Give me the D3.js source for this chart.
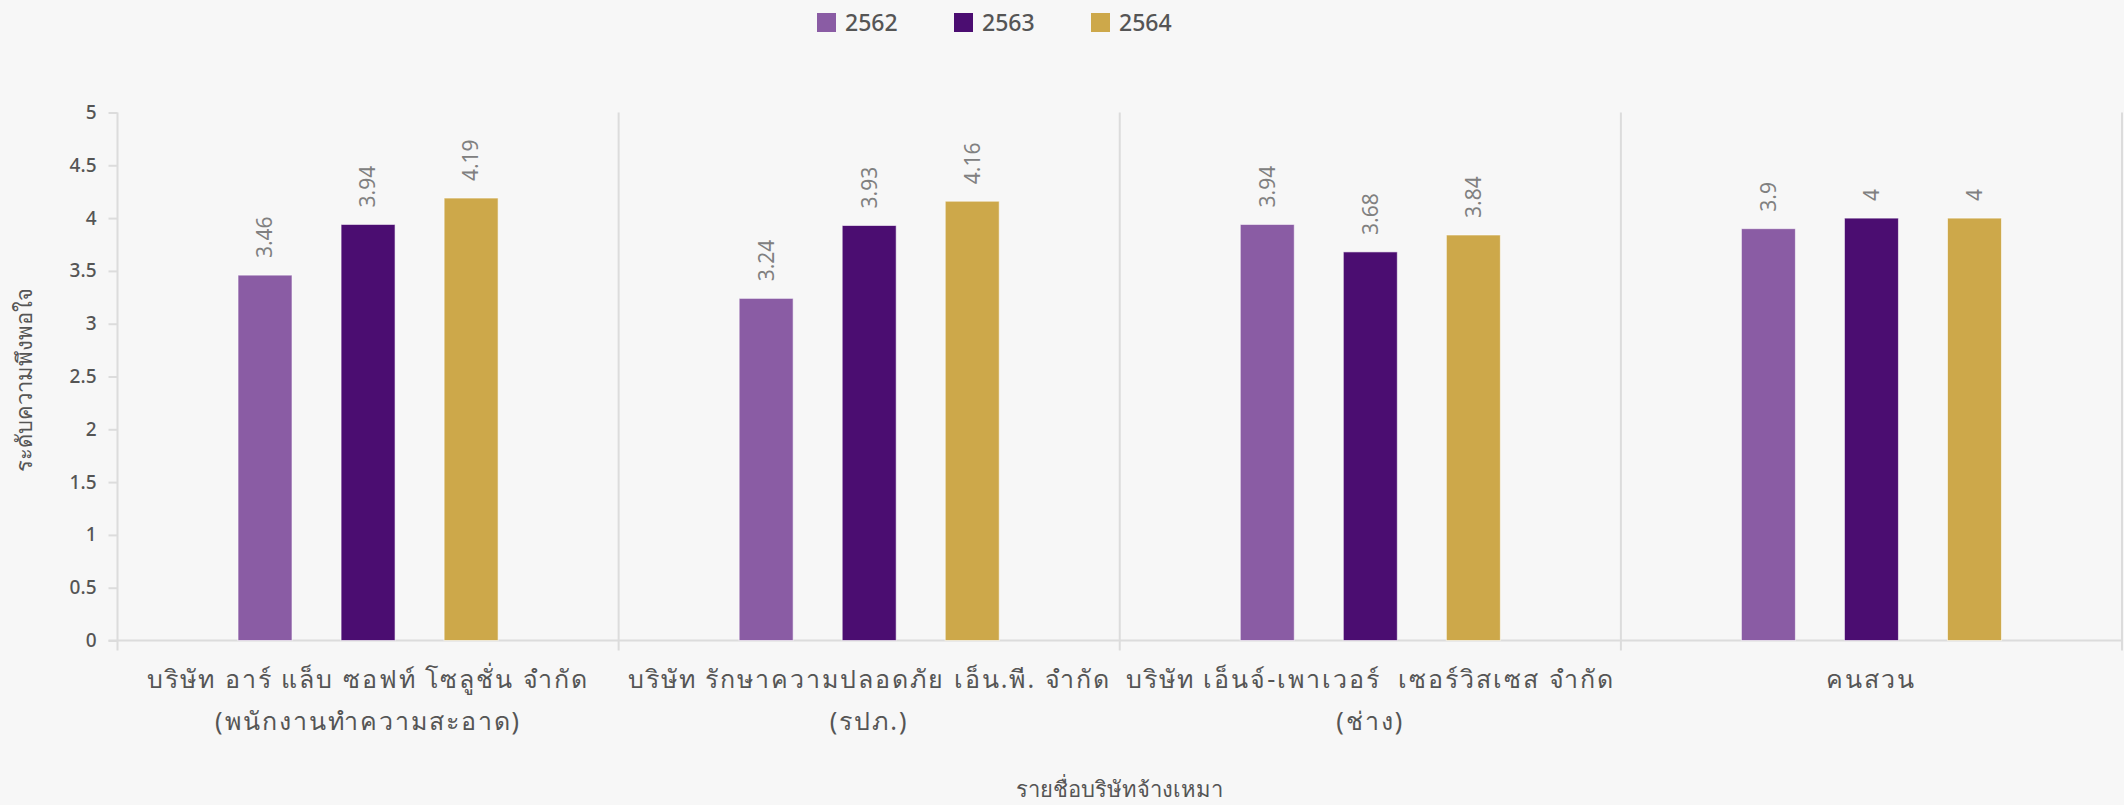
<!DOCTYPE html>
<html><head><meta charset="utf-8">
<script src="https://cdn.jsdelivr.net/npm/d3@7"></script>
<style>
html,body{margin:0;padding:0;background:#f7f7f7;}
svg{display:block;}
</style></head>
<body>
<svg id="chart" width="2124" height="805"></svg>
<script>
const categories = [
  ["บริษัท อาร์ แล็บ ซอฟท์ โซลูชั่น จำกัด", "(พนักงานทำความสะอาด)"],
  ["บริษัท รักษาความปลอดภัย เอ็น.พี. จำกัด", "(รปภ.)"],
  ["บริษัท เอ็นจ์-เพาเวอร์  เซอร์วิสเซส จำกัด", "(ช่าง)"],
  ["คนสวน"]
];
const seriesNames = ["2562", "2563", "2564"];
const values2562 = [3.46, 3.24, 3.94, 3.9];
const values2563 = [3.94, 3.93, 3.68, 4];
const values2564 = [4.19, 4.16, 3.84, 4];
const yTicks = [0, 0.5, 1, 1.5, 2, 2.5, 3, 3.5, 4, 4.5, 5];
const colors = ["#8a5ca4", "#4b0d71", "#cda84a"];
const yTitle = "ระดับความพึงพอใจ";
const xTitle = "รายชื่อบริษัทจ้างเหมา";

const series = [values2562, values2563, values2564];
const svg = d3.select("#chart");
const pL = 117.5, pR = 2122, pT = 112.5, pB = 640.5;

const x0 = d3.scaleBand().domain(d3.range(categories.length)).range([pL, pR]).padding(0);
const x1 = d3.scaleBand().domain(d3.range(seriesNames.length)).range([x0.bandwidth()*0.2405, x0.bandwidth()*0.7595]).paddingInner(0.476).paddingOuter(0);
const y = d3.scaleLinear().domain([0, 5]).range([pB, pT]);

const fontNum = "'Noto Sans', sans-serif";
const fontTitle = "'Noto Sans', sans-serif";
const fontCat = "'Noto Sans', sans-serif";

// vertical dividers
const divs = d3.range(categories.length + 1).map(i => i === categories.length ? pR : x0(i));
svg.append("g").selectAll("line").data(divs).join("line")
  .attr("x1", d => d).attr("x2", d => d)
  .attr("y1", pT).attr("y2", pB + 10)
  .attr("stroke", "#dcdcdc").attr("stroke-width", 2);

// y axis ticks
const yAxis = d3.axisLeft(y).tickValues(yTicks).tickSize(9).tickPadding(12).tickFormat(d3.format("~g"));
const yg = svg.append("g").attr("transform", `translate(${pL},0)`).call(yAxis);
yg.select(".domain").remove();
yg.selectAll(".tick line").attr("stroke", "#dcdcdc").attr("stroke-width", 2);
yg.selectAll(".tick text").attr("fill", "#555").style("font-family", fontNum).style("font-size", "19px").style("font-weight", "500");

// x axis baseline
svg.append("line").attr("x1", pL - 9).attr("x2", pR).attr("y1", pB).attr("y2", pB)
  .attr("stroke", "#dcdcdc").attr("stroke-width", 2);

// bars
const groups = svg.append("g").selectAll("g").data(categories).join("g")
  .attr("transform", (d, i) => `translate(${x0(i)},0)`);
groups.selectAll("rect").data((d, i) => series.map((s, j) => ({j, v: s[i]}))).join("rect")
  .attr("x", d => x1(d.j)).attr("width", x1.bandwidth())
  .attr("y", d => y(d.v)).attr("height", d => y(0) - y(d.v))
  .attr("fill", d => colors[d.j]).attr("stroke", "rgba(255,255,255,0.6)").attr("stroke-width", 1);
groups.selectAll("text").data((d, i) => series.map((s, j) => ({j, v: s[i]}))).join("text")
  .attr("transform", d => `translate(${x1(d.j) + x1.bandwidth()/2},${y(d.v) - 17}) rotate(-90)`)
  .attr("dy", "0.35em")
  .attr("fill", "#808080").style("font-family", fontNum).style("font-size", "21px")
  .text(d => d3.format("~g")(d.v));

// category labels
const cl = svg.append("g").selectAll("text").data(categories).join("text")
  .attr("x", (d, i) => x0(i) + x0.bandwidth()/2).attr("y", 688)
  .attr("text-anchor", "middle").attr("fill", "#555")
  .style("font-family", fontCat)
  .style("font-size", "25px").style("letter-spacing", "2px");
cl.selectAll("tspan").data(d => d).join("tspan")
  .attr("x", function() { return this.parentNode.getAttribute("x"); })
  .attr("dy", (d, i) => i === 0 ? 0 : 42)
  .style("white-space", "pre")
  .text(d => d);

// axis titles
svg.append("text").attr("x", (pL + pR)/2).attr("y", 797).attr("text-anchor", "middle")
  .attr("fill", "#555").style("font-family", fontTitle).style("font-size", "22px").text(xTitle);
svg.append("text").attr("transform", `translate(32,380) rotate(-90)`).attr("text-anchor", "middle")
  .attr("fill", "#555").style("font-family", fontTitle).style("font-size", "22px").text(yTitle);

// legend
const lg = svg.append("g").selectAll("g").data(seriesNames).join("g")
  .attr("transform", (d, i) => `translate(${817 + i*137},13)`);
lg.append("rect").attr("width", 19).attr("height", 19).attr("fill", (d, i) => colors[i]);
lg.append("text").attr("x", 28).attr("y", 17.5).attr("fill", "#555")
  .style("font-family", fontNum).style("font-size", "23px").style("font-weight", "500").text(d => d);
</script>
</body></html>
